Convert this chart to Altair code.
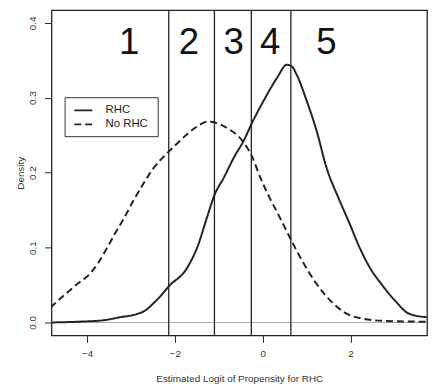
import altair as alt
import pandas as pd

# Density curves
rhc_x = [-4.83, -4.19, -3.62, -3.25, -2.88, -2.65, -2.50, -2.33, -2.16, -1.71, -1.48, -1.26, -1.10, -0.88, -0.65,
         -0.43, -0.24, 0.02, 0.32, 0.55, 0.66, 0.77, 1.00, 1.23, 1.45, 1.74, 1.97, 2.19, 2.42, 2.73, 3.03, 3.32, 3.73]
rhc_y = [0.000, 0.001, 0.003, 0.007, 0.011, 0.017, 0.025, 0.035, 0.047, 0.074, 0.102, 0.142, 0.170, 0.194, 0.221,
         0.243, 0.267, 0.296, 0.326, 0.344, 0.342, 0.331, 0.296, 0.255, 0.207, 0.164, 0.133, 0.102, 0.075, 0.049, 0.028, 0.012, 0.007]

norhc_x = [-4.83, -4.53, -4.23, -3.92, -3.74, -3.56, -3.36, -3.17, -2.95, -2.72, -2.50, -2.16, -1.93, -1.71,
           -1.48, -1.26, -1.10, -0.80, -0.47, -0.24, -0.06, 0.16, 0.39, 0.62, 0.92, 1.22, 1.61, 1.90, 2.28, 2.80, 3.73]
norhc_y = [0.020, 0.036, 0.051, 0.066, 0.080, 0.098, 0.119, 0.138, 0.162, 0.185, 0.205, 0.227, 0.240, 0.252,
           0.262, 0.268, 0.267, 0.259, 0.243, 0.221, 0.194, 0.166, 0.140, 0.113, 0.080, 0.052, 0.025, 0.012, 0.005, 0.002, 0.001]

# Stratum cut points and labels
cut_points = [-2.14, -1.10, -0.26, 0.64]
stratum_labels = ["1", "2", "3", "4", "5"]
stratum_x = [-3.04, -1.68, -0.66, 0.17, 1.45]
stratum_y = [0.359, 0.359, 0.359, 0.359, 0.359]

x_ticks = [-4, -2, 0, 2]
y_ticks = [0.0, 0.1, 0.2, 0.3, 0.4]
series_names = ["RHC", "No RHC"]

# Legend placement (data units, as in R's legend(x, y, ...))
LEG_LEFT, LEG_RIGHT, LEG_TOP, LEG_BOTTOM = -4.50, -2.38, 0.300, 0.248
LEG_SYM_START, LEG_SYM_END, LEG_TEXT_X = -4.29, -3.88, -3.58
legend_row_y = [0.2830, 0.2645]

FONT = "Liberation Sans"

curves = pd.concat([
    pd.DataFrame({"x": rhc_x, "y": rhc_y, "group": series_names[0]}),
    pd.DataFrame({"x": norhc_x, "y": norhc_y, "group": series_names[1]}),
])
cuts = pd.DataFrame({"x": cut_points})
labels = pd.DataFrame({"x": stratum_x, "y": stratum_y, "t": stratum_labels})
zero = pd.DataFrame({"y": [0.0]})
leg_box = pd.DataFrame({"x": [LEG_LEFT], "x2": [LEG_RIGHT], "y": [LEG_BOTTOM], "y2": [LEG_TOP]})
leg_rows = pd.DataFrame({"group": series_names, "y": legend_row_y,
                         "x": [LEG_SYM_START] * 2, "x2": [LEG_SYM_END] * 2, "tx": [LEG_TEXT_X] * 2})

xs = alt.Scale(domain=[-4.81, 3.74], nice=False, zero=False)
ys = alt.Scale(domain=[-0.0172, 0.4168], nice=False, zero=False)
dash_scale = alt.Scale(domain=series_names, range=[[1, 0], [7, 4]])

x_axis = alt.Axis(values=x_ticks, format="d", tickSize=7, labelPadding=6, labelFontSize=10,
                  titleFontSize=10, titleFontWeight="normal", titlePadding=16, domain=False, grid=False,
                  labelColor="#333", titleColor="#333", tickColor="#222", labelFont=FONT, titleFont=FONT,
                  title="Estimated Logit of Propensity for RHC")
y_axis = alt.Axis(values=y_ticks, format=".1f", tickSize=7, labelPadding=7, labelFontSize=10,
                  labelAngle=270, labelAlign="center", labelBaseline="bottom",
                  titleFontSize=10, titleFontWeight="normal", titlePadding=2, domain=False, grid=False,
                  labelColor="#333", titleColor="#333", tickColor="#222", labelFont=FONT, titleFont=FONT,
                  title="Density")

zero_line = alt.Chart(zero).mark_rule(color="#aaaaaa", strokeWidth=1).encode(
    y=alt.Y("y:Q", scale=ys, axis=y_axis))

lines = alt.Chart(curves).mark_line(strokeWidth=2, color="#222", clip=True, interpolate="monotone").encode(
    x=alt.X("x:Q", scale=xs, axis=x_axis),
    y=alt.Y("y:Q", scale=ys, axis=y_axis),
    strokeDash=alt.StrokeDash("group:N", scale=dash_scale, legend=None),
    detail="group:N",
)

vlines = alt.Chart(cuts).mark_rule(color="#222", strokeWidth=1.3).encode(x=alt.X("x:Q", scale=xs))

nums = alt.Chart(labels).mark_text(fontSize=37, baseline="alphabetic", align="center", font=FONT,
                                   color="#111").encode(
    x=alt.X("x:Q", scale=xs), y=alt.Y("y:Q", scale=ys), text="t:N")

# Legend (box, line samples, labels)
legend_box = alt.Chart(leg_box).mark_rect(fill="white", stroke="#333", strokeWidth=1).encode(
    x=alt.X("x:Q", scale=xs), x2="x2:Q", y=alt.Y("y:Q", scale=ys), y2="y2:Q")
legend_sym = alt.Chart(leg_rows).mark_rule(strokeWidth=1.8, color="#222").encode(
    x=alt.X("x:Q", scale=xs), x2="x2:Q", y=alt.Y("y:Q", scale=ys),
    strokeDash=alt.StrokeDash("group:N", scale=dash_scale, legend=None))
legend_txt = alt.Chart(leg_rows).mark_text(align="left", baseline="middle", fontSize=11.5, font=FONT,
                                           color="#222").encode(
    x=alt.X("tx:Q", scale=xs), y=alt.Y("y:Q", scale=ys), text="group:N")

chart = alt.layer(zero_line, lines, vlines, nums, legend_box, legend_sym, legend_txt).properties(
    width=380, height=329,
    autosize=alt.AutoSizeParams(type="none"),
    padding={"left": 44, "top": 0, "right": 2, "bottom": 48},
    background="white",
).configure_view(stroke="#222", strokeWidth=1.3)

chart.save("out.html", embed_options={"renderer": "svg", "actions": False})
